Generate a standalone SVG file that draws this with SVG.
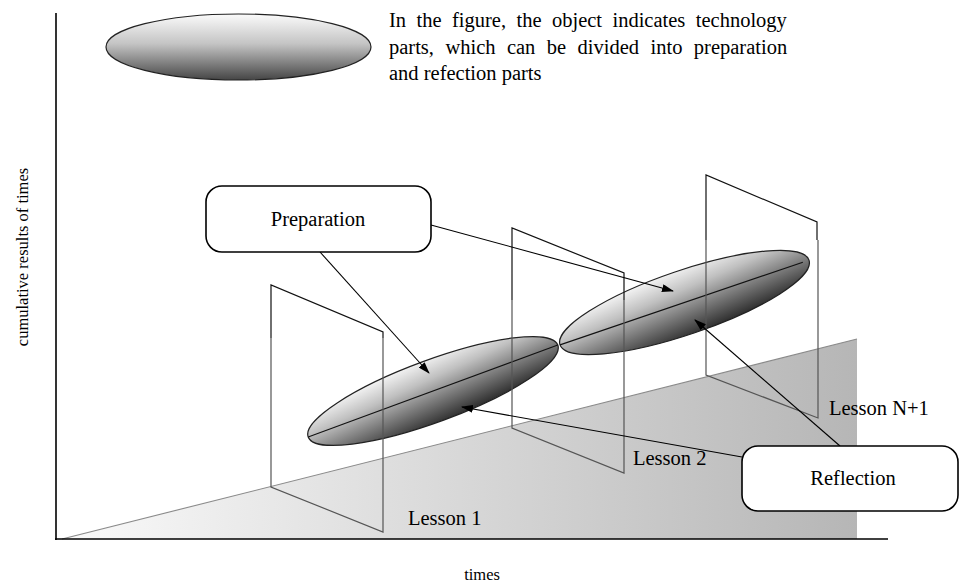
<svg xmlns="http://www.w3.org/2000/svg" width="960" height="587" viewBox="0 0 960 587">
<defs>
<linearGradient id="plane" gradientUnits="userSpaceOnUse" x1="62" y1="0" x2="857" y2="0">
<stop offset="0" stop-color="#fafafa"/>
<stop offset="1" stop-color="#b6b6b6"/>
</linearGradient>
<linearGradient id="ell" x1="0" y1="0" x2="0" y2="1">
<stop offset="0" stop-color="#fbfbfb"/>
<stop offset="0.45" stop-color="#c4c4c4"/>
<stop offset="1" stop-color="#454545"/>
</linearGradient>
<linearGradient id="ell2" x1="0.25" y1="0" x2="0.6" y2="1">
<stop offset="0" stop-color="#fbfbfb"/>
<stop offset="0.35" stop-color="#c0c0c0"/>
<stop offset="1" stop-color="#2e2e2e"/>
</linearGradient>
<marker id="arr" markerUnits="userSpaceOnUse" markerWidth="12" markerHeight="8" refX="11" refY="4" orient="auto">
<path d="M0,0 L12,4 L0,8 Z" fill="#000"/>
</marker>
</defs>
<style>
text{font-family:"Liberation Serif","Times New Roman",serif;fill:#000}
.lbl{font-size:20.5px}
.ax{font-size:16.5px}
.frame{fill:none;stroke:#555;stroke-width:1.2}
.ftop{fill:none;stroke:#111;stroke-width:1.2}
.eshape{stroke:#222;stroke-width:1.2}
.emaj{stroke:#111;stroke-width:1.1}
.box{fill:#fff;stroke:#000;stroke-width:1.6}
.conn{stroke:#000;stroke-width:1.1;fill:none;marker-end:url(#arr)}
</style>

<g id="axes">
<line x1="56" y1="13" x2="56" y2="540" stroke="#000" stroke-width="1.6"/>
</g>

<g id="plane-area">
<polygon points="62,539 857,339 857,539" fill="url(#plane)"/>
<line x1="62" y1="539" x2="857" y2="339" stroke="#8a8a8a" stroke-width="1.1"/>
<line x1="55" y1="539" x2="888" y2="539" stroke="#000" stroke-width="1.6"/>
</g>

<g id="legend">
<ellipse cx="238.5" cy="47" rx="132.5" ry="33" fill="url(#ell)" class="eshape"/>
<text class="lbl" x="389" y="27" word-spacing="5.3">In the figure, the object indicates technology</text>
<text class="lbl" x="389" y="54" word-spacing="6.3">parts, which can be divided into preparation</text>
<text class="lbl" x="389" y="80">and refection parts</text>
</g>

<g id="ellipse-lesson1">
<g transform="translate(433,391) rotate(-20.2)">
<ellipse cx="0" cy="0" rx="133" ry="31" fill="url(#ell2)" class="eshape"/>
<line x1="-133" y1="0" x2="133" y2="0" class="emaj"/>
</g>
</g>

<g id="ellipse-lesson2">
<g transform="translate(684.5,302.5) rotate(-18.8)">
<ellipse cx="0" cy="0" rx="131.5" ry="32" fill="url(#ell2)" class="eshape"/>
<line x1="-131.5" y1="0" x2="125" y2="0" class="emaj"/>
</g>
</g>

<g id="lesson1">
<polyline class="ftop" points="271,338 271,285 383,332 383,338"/>
<polyline class="frame" points="271,338 271,487 383,532 383,338"/>
<text class="lbl" x="408" y="525">Lesson 1</text>
</g>

<g id="lesson2">
<polyline class="ftop" points="512,300 512,228 624,273 624,300"/>
<polyline class="frame" points="512,300 512,428 624,473 624,300"/>
<text class="lbl" x="633" y="465">Lesson 2</text>
</g>

<g id="lessonN1">
<polyline class="ftop" points="706,240 706,175 817,222 817,240"/>
<polyline class="frame" points="706,240 706,375 818,418 818,240"/>
<text class="lbl" x="829" y="415">Lesson N+1</text>
</g>

<g id="connectors">
<line class="conn" x1="320" y1="252" x2="429" y2="373"/>
<line class="conn" x1="431" y1="225" x2="673" y2="291"/>
<line class="conn" x1="742" y1="457" x2="462" y2="407"/>
<line class="conn" x1="840" y1="446" x2="695" y2="320"/>
</g>

<g id="preparation">
<rect class="box" x="206" y="186" width="225" height="66" rx="16" ry="16"/>
<text class="lbl" x="318" y="226" text-anchor="middle">Preparation</text>
</g>

<g id="reflection">
<rect class="box" x="742" y="446" width="216" height="65" rx="16" ry="16"/>
<text class="lbl" x="853" y="485" text-anchor="middle">Reflection</text>
</g>

<g id="axis-labels">
<text class="ax" transform="translate(28,257) rotate(-90)" text-anchor="middle">cumulative results of times</text>
<text class="ax" x="482" y="580" text-anchor="middle">times</text>
</g>
</svg>
